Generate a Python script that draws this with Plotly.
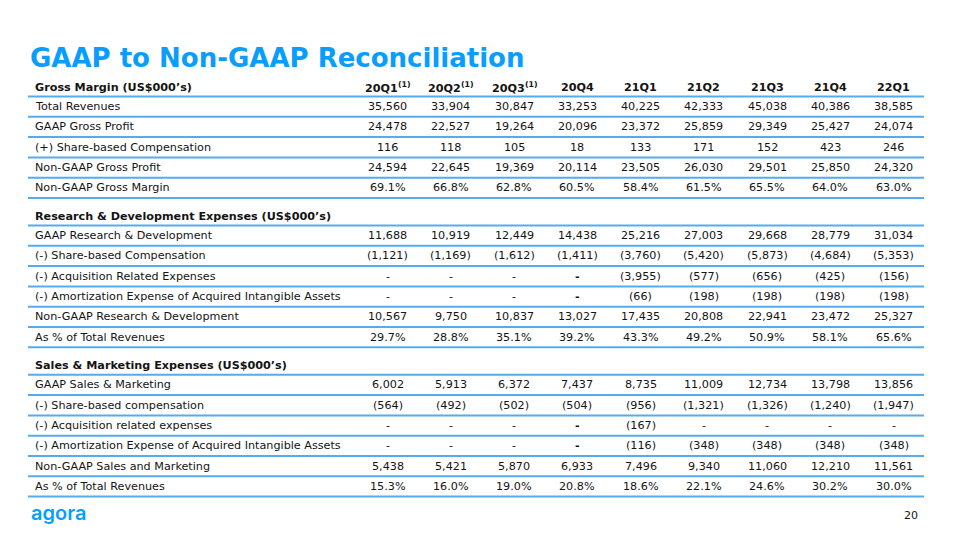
import plotly.graph_objects as go

# ---------------- data ----------------
periods = ["20Q1", "20Q2", "20Q3", "20Q4", "21Q1", "21Q2", "21Q3", "21Q4", "22Q1"]
period_notes = ["(1)", "(1)", "(1)", "", "", "", "", "", ""]

gm_title = "Gross Margin (US$000’s)"
gm_labels = ["Total Revenues", "GAAP Gross Profit", "(+) Share-based Compensation",
             "Non-GAAP Gross Profit", "Non-GAAP Gross Margin"]
total_revenues = [35560, 33904, 30847, 33253, 40225, 42333, 45038, 40386, 38585]
gaap_gross_profit = [24478, 22527, 19264, 20096, 23372, 25859, 29349, 25427, 24074]
gm_sbc = [116, 118, 105, 18, 133, 171, 152, 423, 246]
non_gaap_gross_profit = [24594, 22645, 19369, 20114, 23505, 26030, 29501, 25850, 24320]
non_gaap_gross_margin = [69.1, 66.8, 62.8, 60.5, 58.4, 61.5, 65.5, 64.0, 63.0]

rd_title = "Research & Development Expenses (US$000’s)"
rd_labels = ["GAAP Research & Development", "(-) Share-based Compensation",
             "(-) Acquisition Related Expenses",
             "(-) Amortization Expense of Acquired Intangible Assets",
             "Non-GAAP Research & Development", "As % of Total Revenues"]
gaap_rd = [11688, 10919, 12449, 14438, 25216, 27003, 29668, 28779, 31034]
rd_sbc = [-1121, -1169, -1612, -1411, -3760, -5420, -5873, -4684, -5353]
rd_acq = [None, None, None, None, -3955, -577, -656, -425, -156]
rd_amort = [None, None, None, None, -66, -198, -198, -198, -198]
non_gaap_rd = [10567, 9750, 10837, 13027, 17435, 20808, 22941, 23472, 25327]
rd_pct = [29.7, 28.8, 35.1, 39.2, 43.3, 49.2, 50.9, 58.1, 65.6]

sm_title = "Sales & Marketing Expenses (US$000’s)"
sm_labels = ["GAAP Sales & Marketing", "(-) Share-based compensation",
             "(-) Acquisition related expenses",
             "(-) Amortization Expense of Acquired Intangible Assets",
             "Non-GAAP Sales and Marketing", "As % of Total Revenues"]
gaap_sm = [6002, 5913, 6372, 7437, 8735, 11009, 12734, 13798, 13856]
sm_sbc = [-564, -492, -502, -504, -956, -1321, -1326, -1240, -1947]
sm_acq = [None, None, None, None, -167, None, None, None, None]
sm_amort = [None, None, None, None, -116, -348, -348, -348, -348]
non_gaap_sm = [5438, 5421, 5870, 6933, 7496, 9340, 11060, 12210, 11561]
sm_pct = [15.3, 16.0, 19.0, 20.8, 18.6, 22.1, 24.6, 30.2, 30.0]

sections = [
    (gm_title, gm_labels, [(total_revenues, "n"), (gaap_gross_profit, "n"), (gm_sbc, "n"),
                           (non_gaap_gross_profit, "n"), (non_gaap_gross_margin, "p")]),
    (rd_title, rd_labels, [(gaap_rd, "n"), (rd_sbc, "n"), (rd_acq, "n"), (rd_amort, "n"),
                           (non_gaap_rd, "n"), (rd_pct, "p")]),
    (sm_title, sm_labels, [(gaap_sm, "n"), (sm_sbc, "n"), (sm_acq, "n"), (sm_amort, "n"),
                           (non_gaap_sm, "n"), (sm_pct, "p")]),
]

# ---------------- layout constants ----------------
W, H = 960, 540
FONT = "DejaVu Sans"
TXT = "#141414"
BLUE = "#099dfd"
LINE_C = "#55abee"
LABEL_X = 33
LINE_X0, LINE_X1 = 28, 924
COL_X0, COL_STEP = 387.5, 63.25
ROW_H = 20.3
FIRST_HEADER_LINE = 96.5
SECTION_GAP = 27.5
BODY_SIZE = 11.2
HEAD_SIZE = 11.2


def fmt(v, kind):
    if v is None:
        return "-"
    if kind == "p":
        return f"{v:.1f}%"
    if v < 0:
        return f"({-v:,})"
    return f"{v:,}"


fig = go.Figure()
annotations = []
shapes = []


def add_text(x, y, text, anchor="center", size=BODY_SIZE, color=TXT, family=FONT):
    annotations.append(dict(
        x=x, y=y, xref="x", yref="y", text=text, showarrow=False,
        xanchor=anchor, yanchor="middle",
        font=dict(family=family, size=size, color=color),
    ))


def add_line(y):
    shapes.append(dict(type="line", xref="x", yref="y", x0=LINE_X0, x1=LINE_X1, y0=y, y1=y,
                       line=dict(color=LINE_C, width=2)))


col_x = [COL_X0 + i * COL_STEP for i in range(len(periods))]

line_y = None
for si, (title, labels, rows) in enumerate(sections):
    line_y = FIRST_HEADER_LINE if si == 0 else line_y + SECTION_GAP
    head_y = line_y - 9.5
    add_text(LABEL_X, head_y, f"<b>{title}</b>", anchor="left", size=HEAD_SIZE)
    if si == 0:
        for p, note, cx in zip(periods, period_notes, col_x):
            t = f"<b>{p}</b>" + (f"<sup><b>{note}</b></sup>" if note else "")
            add_text(cx, head_y, t, size=HEAD_SIZE)
    add_line(line_y)
    for label, (vals, kind) in zip(labels, rows):
        cy = line_y + ROW_H / 2
        add_text(LABEL_X, cy, label, anchor="left")
        for ci, (v, cx) in enumerate(zip(vals, col_x)):
            s = fmt(v, kind)
            bold_dash = (v is None and periods[ci] == "20Q4")
            add_text(cx, cy, f"<b>{s}</b>" if bold_dash else s)
        line_y += ROW_H
        add_line(line_y)

# title, logo, page number
annotations.append(dict(x=28, y=58, xref="x", yref="y", text="<b>GAAP to Non-GAAP Reconciliation</b>",
                        showarrow=False, xanchor="left", yanchor="middle",
                        font=dict(family=FONT, size=26, color=BLUE)))
annotations.append(dict(x=29, y=513, xref="x", yref="y", text="agora",
                        showarrow=False, xanchor="left", yanchor="middle",
                        font=dict(family="Inter", size=20, color=BLUE, weight=600)))
annotations.append(dict(x=920, y=515, xref="x", yref="y", text="20",
                        showarrow=False, xanchor="right", yanchor="middle",
                        font=dict(family=FONT, size=11, color=TXT)))

fig.update_layout(
    width=W, height=H,
    margin=dict(l=0, r=0, t=0, b=0),
    paper_bgcolor="white", plot_bgcolor="white",
    xaxis=dict(range=[0, W], visible=False, fixedrange=True),
    yaxis=dict(range=[H, 0], visible=False, fixedrange=True),
    annotations=annotations,
    shapes=shapes,
    showlegend=False,
)

fig.write_html(
    "out.html",
    config={"displayModeBar": False},
    post_script="document.body.style.margin='0';document.body.style.overflow='hidden';",
)
